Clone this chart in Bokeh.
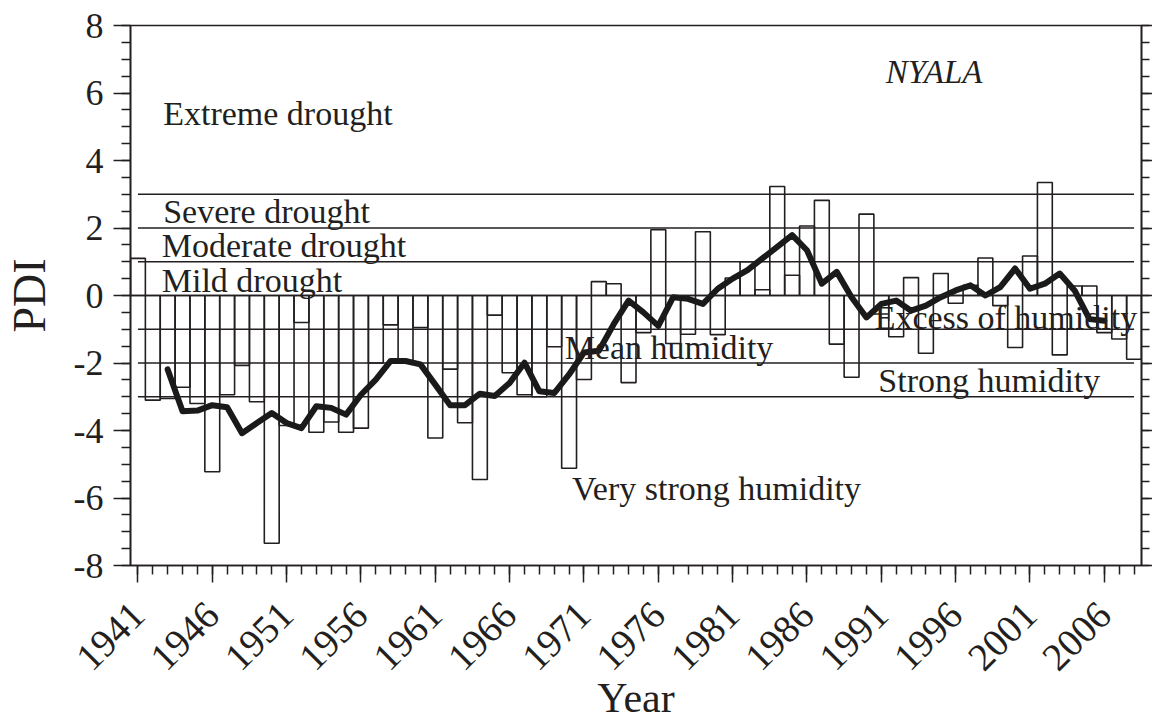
import math
from bokeh.plotting import figure
from bokeh.models import (ColumnDataSource, FixedTicker, LinearAxis, Label, Range1d,
                          Span, CustomJSTickFormatter)
from bokeh.embed import file_html
from bokeh.resources import INLINE

# ---------------- data ----------------
years = list(range(1941, 2009))
pdi = [1.1, -3.1, -3.05, -2.72, -3.2, -5.22, -2.94, -2.07, -3.15, -7.34,
       -3.85, -0.8, -4.05, -3.75, -4.05, -3.93, -2.0, -0.87, -1.95, -0.95,
       -4.22, -2.18, -3.77, -5.45, -0.58, -2.29, -2.94, -3.0, -1.52, -5.12,
       -2.49, 0.41, 0.35, -2.58, -1.1, 1.95, -1.42, -1.15, 1.89, -1.16,
       0.52, 1.0, 0.17, 3.23, 0.6, 2.06, 2.82, -1.44, -2.42, 2.41,
       -0.55, -1.22, 0.53, -1.71, 0.65, -0.23, 0.3, 1.11, -0.3, -1.54,
       1.17, 3.35, -1.76, 0.28, 0.28, -1.1, -1.29, -1.89]

ma_years = list(range(1943, 2007))
pdi_ma = [-2.19, -3.43, -3.41, -3.25, -3.31, -4.08, -3.78, -3.48, -3.78, -3.93,
          -3.28, -3.33, -3.53, -2.94, -2.49, -1.94, -1.94, -2.04, -2.64, -3.25,
          -3.25, -2.91, -2.98, -2.59, -1.99, -2.84, -2.89, -2.34, -1.69, -1.64,
          -0.85, -0.15, -0.5, -0.9, -0.05, -0.1, -0.25, 0.2, 0.5, 0.75,
          1.1, 1.44, 1.79, 1.34, 0.35, 0.7, -0.05, -0.65, -0.25, -0.15,
          -0.45, -0.3, -0.05, 0.15, 0.3, 0.0, 0.25, 0.8, 0.2, 0.35,
          0.65, 0.15, -0.7, -0.75]

class_bounds = [3, 2, 1, -1, -2, -3]
x_major_ticks = list(range(1941, 2007, 5))
x_minor_ticks = list(range(1941, 2009))
y_major_ticks = list(range(-8, 9, 2))
y_minor_ticks = [v / 2 for v in range(-16, 17)]
station = "NYALA"

FONT = "Liberation Serif"
INK = "#231f20"

bars = ColumnDataSource(dict(year=years, pdi=pdi))
curve = ColumnDataSource(dict(year=ma_years, pdi=pdi_ma))
bounds = ColumnDataSource(dict(x0=[years[0]] * len(class_bounds),
                               x1=[years[-1]] * len(class_bounds),
                               y=class_bounds))

p = figure(frame_width=1011, frame_height=540,
           x_range=Range1d(1940.5, 2008.5), y_range=Range1d(-8, 8),
           output_backend="svg", toolbar_location=None,
           min_border_left=120, min_border_top=25, min_border_right=1,
           min_border_bottom=1, background_fill_color="white",
           border_fill_color="white")
p.xgrid.visible = False
p.ygrid.visible = False
p.outline_line_color = INK
p.outline_line_width = 1.6

# class boundary lines
p.segment(x0="x0", x1="x1", y0="y", y1="y", source=bounds,
          line_color=INK, line_width=1.4)
p.add_layout(Span(location=0, dimension="width", line_color=INK, line_width=1.4))

# bars
p.vbar(x="year", top="pdi", bottom=0, width=1.0, source=bars,
       fill_alpha=0, line_color=INK, line_width=1.6)

# moving average curve
p.line(x="year", y="pdi", source=curve, line_color="#1a1a1a", line_width=6,
       line_join="round", line_cap="round")

# axes
xa = p.xaxis[0]
xa.ticker = FixedTicker(ticks=x_major_ticks, minor_ticks=x_minor_ticks)
xa.major_label_orientation = math.pi / 4
xa.axis_label = "Year"
ya = p.yaxis[0]
ya.ticker = FixedTicker(ticks=y_major_ticks, minor_ticks=y_minor_ticks)
ya.major_label_overrides = {v: str(v) for v in y_major_ticks}
ya.axis_label = "PDI"

for ax in (xa, ya):
    ax.axis_line_color = INK
    ax.axis_line_width = 1.6
    ax.major_tick_line_color = INK
    ax.minor_tick_line_color = INK
    ax.major_tick_line_width = 1.5
    ax.minor_tick_line_width = 1.5
    ax.major_tick_in = 0
    ax.minor_tick_in = 0
    ax.major_tick_out = 17
    ax.minor_tick_out = 9
    ax.major_label_text_font = FONT
    ax.major_label_text_font_size = "36px"
    ax.major_label_text_color = INK
    ax.axis_label_text_font = FONT
    ax.axis_label_text_font_size = "46px"
    ax.axis_label_text_font_style = "normal"
    ax.axis_label_text_color = INK

xa.major_label_text_font_size = "39px"
xa.major_label_standoff = 26
xa.axis_label_standoff = -10
xa.axis_label_text_font_size = "42px"
ya.major_label_standoff = 10
ya.axis_label_standoff = 16

ra = LinearAxis(ticker=FixedTicker(ticks=y_major_ticks, minor_ticks=y_minor_ticks),
                formatter=CustomJSTickFormatter(code="return ''"),
                axis_line_color=INK,
                axis_line_width=1.6, major_tick_line_color=INK,
                minor_tick_line_color=INK, major_tick_line_width=1.5,
                minor_tick_line_width=1.5, major_tick_in=0, minor_tick_in=0,
                major_tick_out=11, minor_tick_out=8, major_label_standoff=0)
p.add_layout(ra, "right")

# region labels
def lab(x, y, text, style="normal", size="34px"):
    p.add_layout(Label(x=x, y=y, text=text, text_font=FONT, text_font_size=size,
                       text_font_style=style, text_color=INK,
                       text_baseline="middle", text_align="left"))

lab(1942.7, 5.4, "Extreme drought")
lab(1942.7, 2.5, "Severe drought")
lab(1942.6, 1.48, "Moderate drought")
lab(1942.6, 0.44, "Mild drought")
lab(1969.7, -1.55, "Mean humidity")
lab(1990.55, -0.64, "Excess of humidity")
lab(1990.8, -2.52, "Strong humidity")
lab(1970.2, -5.72, "Very strong humidity")
lab(1991.3, 6.62, station, style="italic", size="33px")

open("out.html", "w").write(file_html(p, INLINE))
